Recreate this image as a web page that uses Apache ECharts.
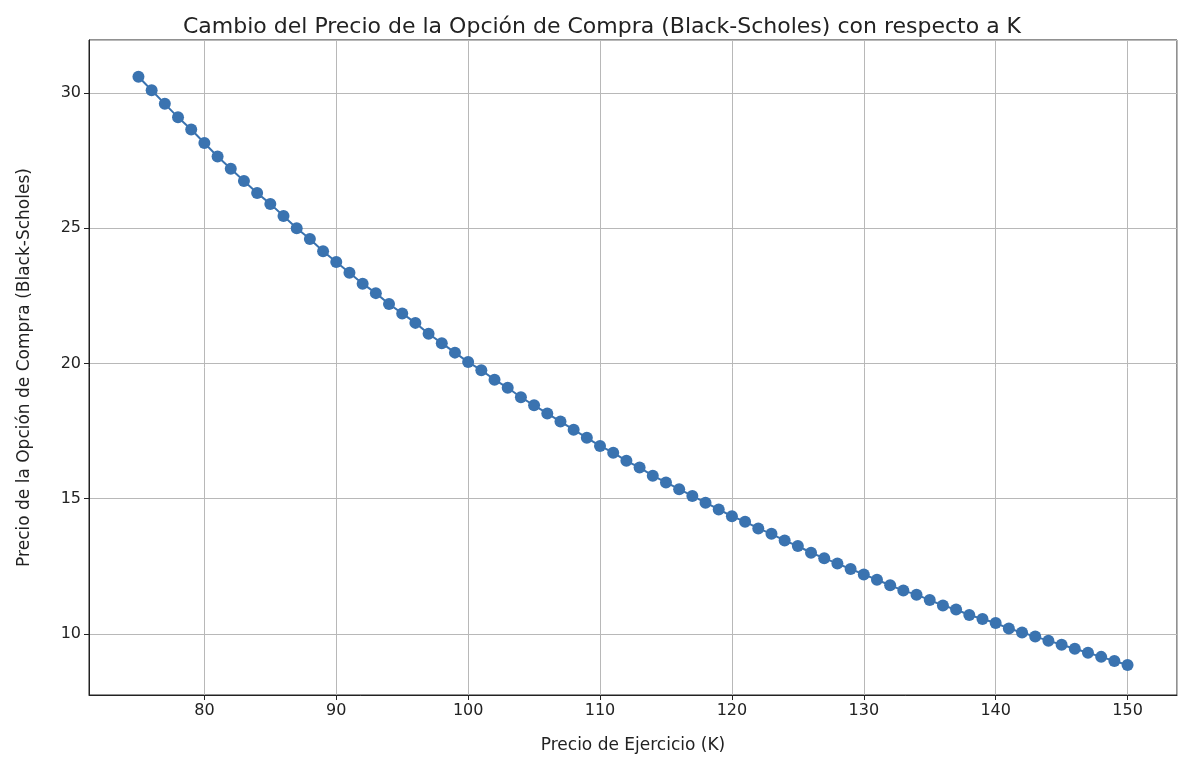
<!DOCTYPE html>
<html><head><meta charset="utf-8">
<script src="https://cdn.jsdelivr.net/npm/echarts@6/dist/echarts.min.js"></script>
<style>html,body{margin:0;background:#fff}#c{width:1204px;height:764px}</style>
</head><body><div id="c"></div>
<script>
const strikes = [];
for (let k = 75; k <= 150; k++) strikes.push(k);
const prices = [30.6, 30.1, 29.6, 29.1, 28.65, 28.15, 27.65, 27.2, 26.75, 26.3,
  25.9, 25.45, 25.0, 24.6, 24.15, 23.75, 23.35, 22.95, 22.6, 22.2,
  21.85, 21.5, 21.1, 20.75, 20.4, 20.05, 19.75, 19.4, 19.1, 18.75,
  18.45, 18.15, 17.85, 17.55, 17.25, 16.95, 16.7, 16.4, 16.15, 15.85,
  15.6, 15.35, 15.1, 14.85, 14.6, 14.35, 14.15, 13.9, 13.7, 13.45,
  13.25, 13.0, 12.8, 12.6, 12.4, 12.2, 12.0, 11.8, 11.6, 11.45,
  11.25, 11.05, 10.9, 10.7, 10.55, 10.4, 10.2, 10.05, 9.9, 9.75,
  9.6, 9.45, 9.3, 9.15, 9.0, 8.85];

const chart = echarts.init(document.getElementById("c"));
const font = "DejaVu Sans";
chart.setOption({
  animation: false,
  title: {
    text: "Cambio del Precio de la Opción de Compra (Black-Scholes) con respecto a K",
    left: "center", top: 11,
    textStyle: { fontFamily: font, fontSize: 22, fontWeight: "normal", color: "#222" },
  },
  grid: { left: 89, right: 27, top: 40, bottom: 69, show: true, borderColor: "#222", borderWidth: 1 },
  xAxis: {
    type: "value", min: 71.25, max: 153.75, splitNumber: 8,
    name: "Precio de Ejercicio (K)", nameLocation: "middle", nameGap: 42,
    nameTextStyle: { fontFamily: font, fontSize: 17, color: "#222" },
    axisLine: { lineStyle: { color: "#222" } },
    axisTick: { show: true, length: 5, lineStyle: { color: "#222" } },
    axisLabel: { fontFamily: font, fontSize: 16, color: "#222", showMinLabel: false, showMaxLabel: false },
    splitLine: { lineStyle: { color: "#b8b8b8" } },
  },
  yAxis: {
    type: "value", min: 7.74, max: 31.96, splitNumber: 5,
    name: "Precio de la Opción de Compra (Black-Scholes)", nameLocation: "middle", nameGap: 56,
    nameTextStyle: { fontFamily: font, fontSize: 17, color: "#222" },
    axisLine: { show: true, lineStyle: { color: "#222" } },
    axisTick: { show: true, length: 5, lineStyle: { color: "#222" } },
    axisLabel: { fontFamily: font, fontSize: 16, color: "#222", showMinLabel: false, showMaxLabel: false },
    splitLine: { lineStyle: { color: "#b8b8b8" } },
  },
  series: [{
    type: "line",
    data: strikes.map((k, i) => [k, prices[i]]),
    symbol: "circle", symbolSize: 12,
    itemStyle: { color: "#3a73b0" },
    lineStyle: { color: "#3a73b0", width: 2 },
  }],
});
</script></body></html>
